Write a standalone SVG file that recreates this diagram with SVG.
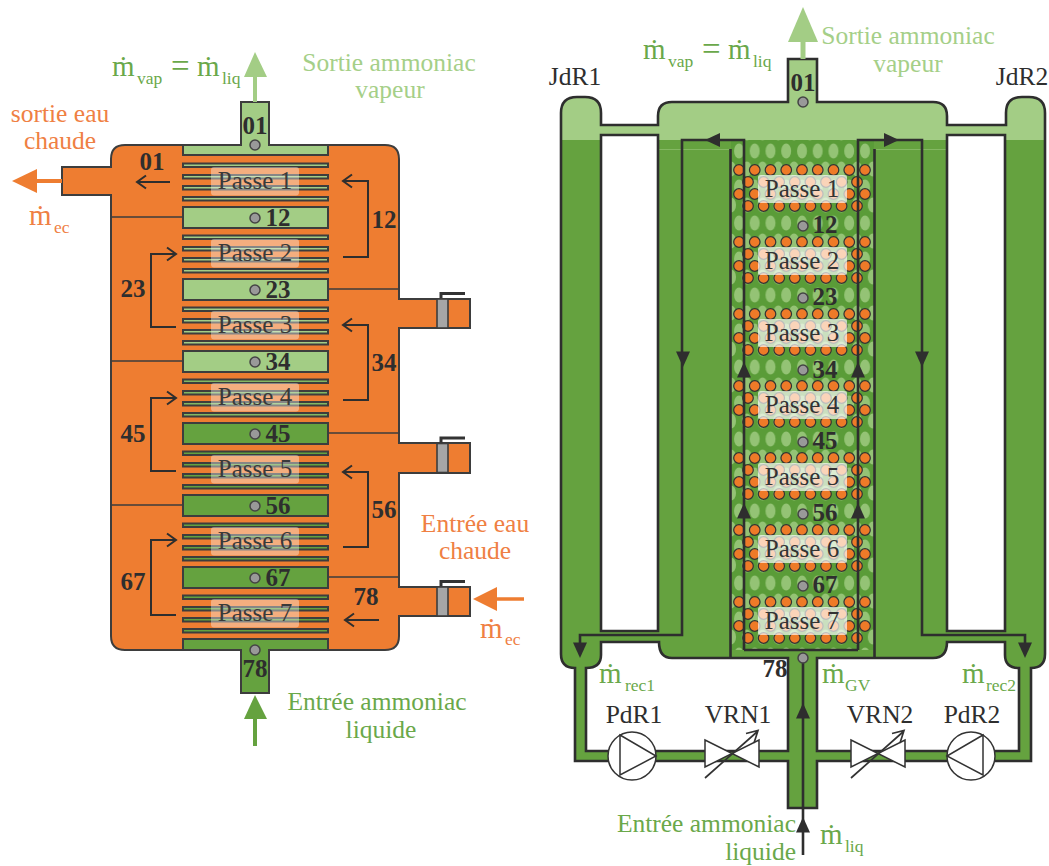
<svg xmlns="http://www.w3.org/2000/svg" xmlns:xlink="http://www.w3.org/1999/xlink" width="1049" height="866" viewBox="0 0 1049 866">
<style>
text{font-family:"Liberation Serif","Times New Roman",serif}
.o{fill:#ee7d31;stroke:#3d3d3d;stroke-width:2}
.lg{fill:#a3cd85;stroke:#3d3d3d;stroke-width:2}
.dg{fill:#65a23f;stroke:#3d3d3d;stroke-width:2}
.mg{fill:#84b862;stroke:#3d3d3d;stroke-width:2}
.th{fill:none;stroke:#3d3d3d;stroke-width:1.6}
.ln{fill:none;stroke:#2e2e2e;stroke-width:2}
.hv{fill:none;stroke:#2e2e2e;stroke-width:2.6}
.g{fill:#999;stroke:#444;stroke-width:1.5}
.n{font-size:25px;font-weight:bold;fill:#2e2e2e;text-anchor:middle}
.pl{fill:#fff;fill-opacity:.38}
.pr{fill:#fff;fill-opacity:.68}
.pt{font-size:25px;fill:#3a3a3a;text-anchor:middle}
.t{font-size:25.5px}
.c{text-anchor:middle}
.cg{fill:#6aa84a}.cl{fill:#a5cf88}.co{fill:#ef8043}.ck{fill:#2e2e2e}
.m{font-size:29px}.s{font-size:17.5px}.e{font-size:33px}
.d{fill:#ee7a28;stroke:#333;stroke-width:1.2}
</style>
<defs>
<path id="vessel" d="M788,102V59H817V102H933Q947,102 947,116V125H1006V113Q1006,97 1022,97H1029Q1045,97 1045,113V654Q1045,668 1031,668V761H817V808H788V761H575V668Q561,668 561,654V113Q561,97 577,97H585Q601,97 601,113V125H658V116Q658,102 672,102ZM586,668Q601,668 601,655V642H659Q659,658 672,658H788V751H586ZM817,658H933Q947,658 947,642H1005V655Q1005,668 1019,668V751H817ZM601,135H658V631H601ZM947,135H1005V631H947Z"/>
<clipPath id="top"><rect x="540" y="0" width="509" height="140"/></clipPath>
<pattern id="foam" width="31.500" height="36" patternUnits="userSpaceOnUse" patternTransform="translate(731 142)">
<rect width="31.500" height="36" fill="#5a9c38"/>
<g fill="#a3cd85" fill-opacity=".8">
<ellipse cx="8" cy="9" rx="5" ry="7.500"/><ellipse cx="23.700" cy="9" rx="5" ry="7.500"/>
<ellipse cx="0" cy="27" rx="5" ry="7.500"/><ellipse cx="15.800" cy="27" rx="5" ry="7.500"/><ellipse cx="31.500" cy="27" rx="5" ry="7.500"/>
</g>
</pattern>
<g id="fins-l"><rect x="183" y="163.5" width="145" height="3.5"/><rect x="183" y="175" width="145" height="3.5"/><rect x="183" y="186" width="145" height="3.5"/><rect x="183" y="197" width="145" height="3.5"/></g>
<g id="tubes">
<g id="r1"><circle class="d" cx="739" cy="170" r="5.300"/><circle class="d" cx="754.750" cy="170" r="5.300"/><circle class="d" cx="770.500" cy="170" r="5.300"/><circle class="d" cx="786.250" cy="170" r="5.300"/><circle class="d" cx="802" cy="170" r="5.300"/><circle class="d" cx="817.750" cy="170" r="5.300"/><circle class="d" cx="833.500" cy="170" r="5.300"/><circle class="d" cx="849.250" cy="170" r="5.300"/><circle class="d" cx="865" cy="170" r="5.300"/></g>
<g id="r2"><circle class="d" cx="748" cy="182" r="5.300"/><circle class="d" cx="763.600" cy="182" r="5.300"/><circle class="d" cx="779.200" cy="182" r="5.300"/><circle class="d" cx="794.800" cy="182" r="5.300"/><circle class="d" cx="810.400" cy="182" r="5.300"/><circle class="d" cx="826" cy="182" r="5.300"/><circle class="d" cx="841.600" cy="182" r="5.300"/><circle class="d" cx="857" cy="182" r="5.300"/></g>
<use href="#r1" y="24"/><use href="#r2" y="24"/>
<rect class="pr" x="758" y="175" width="89" height="28" rx="2"/>
</g>
<path id="hd" d="M0,0L7,15.500H-7Z" fill="#2e2e2e"/>
<g id="valve"><path d="M705,740L759,767V740L705,767Z" fill="#fff" stroke="#333" stroke-width="1.500"/><path d="M705,778L758,731M746,733.500L758,730.500L754,743" fill="none" stroke="#333" stroke-width="1.700"/></g>
<g id="nozzle"><rect x="437" y="299" width="11" height="29" fill="#a6a6a6" stroke="#3d3d3d" stroke-width="1.600"/><path d="M441,298V293.500H465" fill="none" stroke="#333" stroke-width="3"/></g>
</defs>

<g id="echangeur-gauche">
<g id="corps-orange"><path class="o" d="M62,167H111V159Q111,145 125,145H385Q399,145 399,159V299H470V328H399V443H470V473H399V587H470V616H399V636Q399,650 385,650H125Q111,650 111,636V195H62Z"/>
<path class="th" d="M111,217H183M111,361H183M111,505H183M328,289H399M328,433H399M328,577H399"/>
<use href="#nozzle"/><use href="#nozzle" y="144.500"/><use href="#nozzle" y="288"/></g>
<g id="collecteur-01"><path class="lg" d="M183,155V145H241V102H269V145H328V155Z"/><circle class="g" cx="255" cy="145" r="5"/><text class="n" x="255" y="134">01</text></g>
<g id="passe-1-g"><use href="#fins-l" class="lg"/><rect class="pl" x="211" y="167" width="88" height="28.500" rx="3"/><text class="pt" x="255" y="189">Passe 1</text></g>
<g id="bloc-12"><rect class="lg" x="183" y="207" width="145" height="21"/><circle class="g" cx="255" cy="218" r="5"/><text class="n" x="278" y="226">12</text></g>
<g id="passe-2-g"><use href="#fins-l" class="lg" y="72"/><rect class="pl" x="211" y="239" width="88" height="28.500" rx="3"/><text class="pt" x="255" y="261">Passe 2</text></g>
<g id="bloc-23"><rect class="lg" x="183" y="279" width="145" height="21"/><circle class="g" cx="255" cy="290" r="5"/><text class="n" x="278" y="298">23</text></g>
<g id="passe-3-g"><use href="#fins-l" class="lg" y="144"/><rect class="pl" x="211" y="311" width="88" height="28.500" rx="3"/><text class="pt" x="255" y="333">Passe 3</text></g>
<g id="bloc-34"><rect class="lg" x="183" y="351" width="145" height="21"/><circle class="g" cx="255" cy="362" r="5"/><text class="n" x="278" y="370">34</text></g>
<g id="passe-4-g"><use href="#fins-l" class="mg" y="216"/><rect class="pl" x="211" y="383" width="88" height="28.500" rx="3"/><text class="pt" x="255" y="405">Passe 4</text></g>
<g id="bloc-45"><rect class="dg" x="183" y="423" width="145" height="21"/><circle class="g" cx="255" cy="434" r="5"/><text class="n" x="278" y="442">45</text></g>
<g id="passe-5-g"><use href="#fins-l" class="dg" y="288"/><rect class="pl" x="211" y="455" width="88" height="28.500" rx="3"/><text class="pt" x="255" y="477">Passe 5</text></g>
<g id="bloc-56"><rect class="dg" x="183" y="495" width="145" height="21"/><circle class="g" cx="255" cy="506" r="5"/><text class="n" x="278" y="514">56</text></g>
<g id="passe-6-g"><use href="#fins-l" class="dg" y="360"/><rect class="pl" x="211" y="527" width="88" height="28.500" rx="3"/><text class="pt" x="255" y="549">Passe 6</text></g>
<g id="bloc-67"><rect class="dg" x="183" y="567" width="145" height="21"/><circle class="g" cx="255" cy="578" r="5"/><text class="n" x="278" y="586">67</text></g>
<g id="passe-7-g"><use href="#fins-l" class="dg" y="432"/><rect class="pl" x="211" y="599" width="88" height="28.500" rx="3"/><text class="pt" x="255" y="621">Passe 7</text></g>
<g id="collecteur-78"><path class="dg" d="M183,639H328V650H269V693H241V650H183Z"/><circle class="g" cx="255" cy="650" r="5"/><text class="n" x="255" y="677">78</text></g>
</g>

<g id="connecteurs-gauche">
<path class="ln" d="M170,182H137M146,175.500L137,182L146,188.500"/>
<path class="ln" d="M343,257H368V181H343M352,174.500L343,181L352,187.500"/>
<path class="ln" d="M343,400H368V325H343M352,318.500L343,325L352,331.500"/>
<path class="ln" d="M343,547H368V472H343M352,465.500L343,472L352,478.500"/>
<path class="ln" d="M379,620H345M354,613.500L345,620L354,626.500"/>
<path class="ln" d="M176,327H151V254H176M167,247.500L176,254L167,260.500"/>
<path class="ln" d="M176,471H151V398H176M167,391.500L176,398L167,404.500"/>
<path class="ln" d="M176,615H151V540H176M167,533.500L176,540L167,546.500"/>
<path d="M255,102V70" stroke="#a3cd85" stroke-width="4" fill="none"/><path d="M255,52L267,77H244Z" fill="#a3cd85"/>
<path d="M62,181H30" stroke="#ee7d31" stroke-width="4" fill="none"/><path d="M12,181L37,169V193Z" fill="#ee7d31"/>
<path d="M255,746V712" stroke="#65a23f" stroke-width="4" fill="none"/><path d="M255,695L267,719H244Z" fill="#65a23f"/>
<path d="M524,599H490" stroke="#ee7d31" stroke-width="3.500" fill="none"/><path d="M473,599L497,587V611Z" fill="#ee7d31"/>
</g>
<g id="etiquettes-gauche">
<text class="n" x="152" y="170">01</text><text class="n" x="384" y="228">12</text><text class="n" x="133" y="297">23</text><text class="n" x="384" y="371">34</text><text class="n" x="133" y="442">45</text><text class="n" x="384" y="518">56</text><text class="n" x="133" y="590">67</text><text class="n" x="366" y="605">78</text>
<text class="cg"><tspan class="m" x="112" y="76">ṁ</tspan><tspan class="s" x="137" y="84">vap</tspan><tspan class="e" x="171" y="77">=</tspan><tspan class="m" x="197" y="76">ṁ</tspan><tspan class="s" x="222" y="84">liq</tspan></text>
<text class="t c cl" x="389" y="71">Sortie ammoniac</text>
<text class="t c cl" x="390" y="98">vapeur</text>
<text class="t c co" x="60" y="122">sortie eau</text><text class="t c co" x="60" y="149">chaude</text>
<text class="co"><tspan class="m" x="29" y="225">ṁ</tspan><tspan class="s" x="54" y="233">ec</tspan></text>
<text class="t c co" x="475" y="532">Entrée eau</text><text class="t c co" x="475" y="559">chaude</text>
<text class="co"><tspan class="m" x="480" y="638">ṁ</tspan><tspan class="s" x="505" y="645">ec</tspan></text>
<text class="t c cg" x="377" y="710">Entrée ammoniac</text><text class="t c cg" x="381" y="738">liquide</text>
</g>

<g id="evaporateur-droit">
<use href="#vessel" fill="#65a23f" fill-rule="evenodd"/>
<use href="#vessel" fill="#a3cd85" fill-rule="evenodd" clip-path="url(#top)"/>
<path d="M659,149.500H730M875,149.500H946" stroke="#84b862" stroke-width="1" fill="none"/>
<rect x="731" y="140" width="143" height="510" fill="url(#foam)"/>
<use href="#vessel" fill="none" stroke="#2e2e2e" stroke-width="2.600"/>
<g id="tubes-passes"><use href="#tubes"/><use href="#tubes" y="72"/><use href="#tubes" y="144"/><use href="#tubes" y="216"/><use href="#tubes" y="288"/><use href="#tubes" y="360"/><use href="#tubes" y="432"/></g>
<path class="hv" d="M730.500,149V658M874.500,149V658"/>
<g id="jauges-droit"><circle class="g" cx="803" cy="102" r="5"/><circle class="g" cx="803" cy="226" r="5"/><circle class="g" cx="803" cy="298" r="5"/><circle class="g" cx="803" cy="370" r="5"/><circle class="g" cx="803" cy="442" r="5"/><circle class="g" cx="803" cy="514" r="5"/><circle class="g" cx="803" cy="586" r="5"/></g>
</g>

<g id="connecteurs-droit">
<path class="hv" d="M744,650V140H682V635H580V645M858,650V140H922V635H1025V645M744,650H858"/>
<path d="M705,140L720,133V147Z" fill="#2e2e2e"/><path d="M899,140L884,133V147Z" fill="#2e2e2e"/>
<use href="#hd" transform="translate(683 367) scale(1 -1)"/><use href="#hd" transform="translate(922 367) scale(1 -1)"/>
<use href="#hd" x="744" y="362"/><use href="#hd" x="858" y="362"/><use href="#hd" x="744" y="503"/><use href="#hd" x="858" y="503"/>
<use href="#hd" transform="translate(580 658) scale(1 -1)"/><use href="#hd" transform="translate(1025 658) scale(1 -1)"/>
<path class="hv" d="M803,658V855"/>
<use href="#hd" x="803" y="703"/><use href="#hd" x="803" y="817"/>
<circle class="g" cx="803" cy="658" r="5"/>
<path d="M803,59V35" stroke="#a3cd85" stroke-width="5" fill="none"/><path d="M803,7L818,42H788Z" fill="#a3cd85"/>
</g>
<g id="PdR1"><circle cx="632" cy="756" r="24" fill="#fff" stroke="#333" stroke-width="1.500"/><path d="M620,735L656,756L620,775Z" fill="none" stroke="#333" stroke-width="1.500"/></g>
<g id="PdR2"><circle cx="971" cy="756" r="24" fill="#fff" stroke="#333" stroke-width="1.500"/><path d="M983,735L947,756L983,775Z" fill="none" stroke="#333" stroke-width="1.500"/></g>
<g id="VRN1"><use href="#valve"/></g>
<g id="VRN2"><use href="#valve" x="146"/></g>
<g id="etiquettes-droit">
<text class="n" x="803" y="91">01</text><text class="n" x="825" y="233">12</text><text class="n" x="825" y="305">23</text><text class="n" x="825" y="378">34</text><text class="n" x="825" y="449">45</text><text class="n" x="825" y="521">56</text><text class="n" x="825" y="593">67</text><text class="n" x="775" y="677">78</text>
<text class="pt" x="802" y="197" style="fill:#333">Passe 1</text><text class="pt" x="802" y="269" style="fill:#333">Passe 2</text><text class="pt" x="802" y="341" style="fill:#333">Passe 3</text><text class="pt" x="802" y="413" style="fill:#333">Passe 4</text><text class="pt" x="802" y="485" style="fill:#333">Passe 5</text><text class="pt" x="802" y="557" style="fill:#333">Passe 6</text><text class="pt" x="802" y="629" style="fill:#333">Passe 7</text>
<text class="cg"><tspan class="m" x="643" y="59">ṁ</tspan><tspan class="s" x="668" y="67">vap</tspan><tspan class="e" x="702" y="60">=</tspan><tspan class="m" x="728" y="59">ṁ</tspan><tspan class="s" x="753" y="67">liq</tspan></text>
<text class="t c cl" x="908" y="44">Sortie ammoniac</text><text class="t c cl" x="908" y="72">vapeur</text>
<text class="t c ck" x="575" y="85">JdR1</text><text class="t c ck" x="1022" y="85">JdR2</text>
<text class="cg"><tspan class="m" x="599" y="683">ṁ</tspan><tspan class="s" x="625" y="691">rec1</tspan></text>
<text class="cg"><tspan class="m" x="822" y="683">ṁ</tspan><tspan class="s" x="845" y="691">GV</tspan></text>
<text class="cg"><tspan class="m" x="962" y="683">ṁ</tspan><tspan class="s" x="986" y="691">rec2</tspan></text>
<text class="t c ck" x="634" y="723">PdR1</text><text class="t c ck" x="738" y="723">VRN1</text><text class="t c ck" x="880" y="723">VRN2</text><text class="t c ck" x="972" y="723">PdR2</text>
<text class="t cg" x="796" y="832" text-anchor="end">Entrée ammoniac</text><text class="t cg" x="796" y="860" text-anchor="end">liquide</text>
<text class="cg"><tspan class="m" x="820" y="844">ṁ</tspan><tspan class="s" x="845" y="852">liq</tspan></text>
</g>
</svg>
